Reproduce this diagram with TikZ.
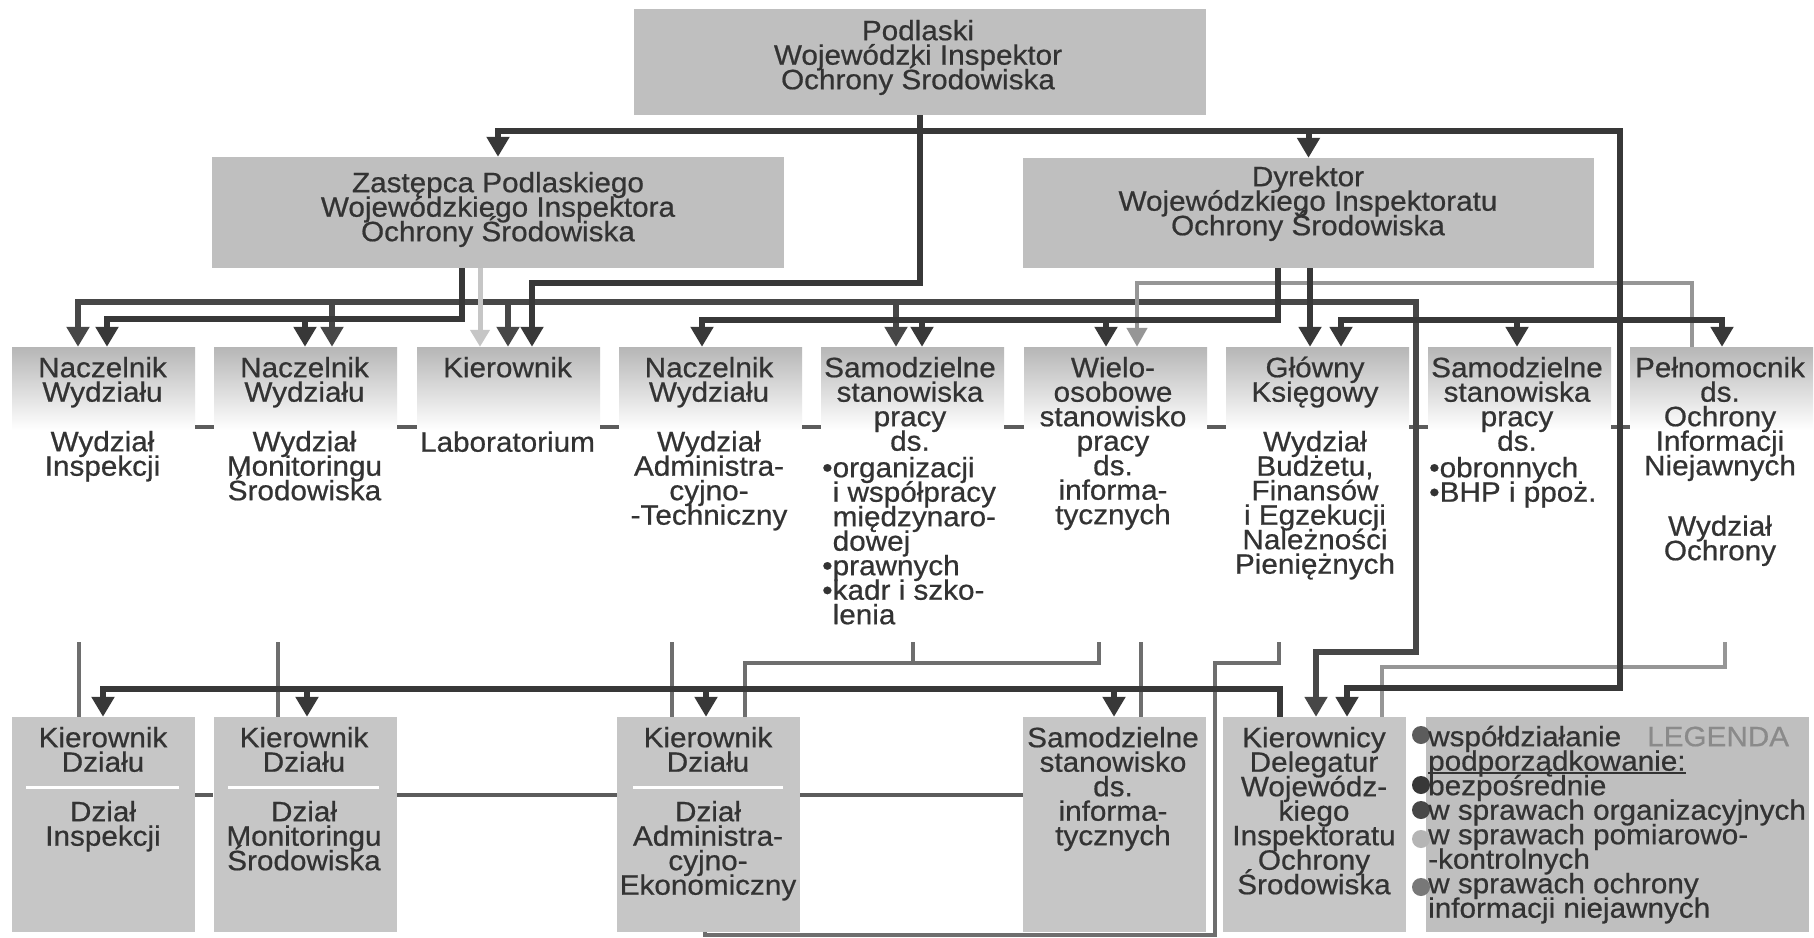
\documentclass[tikz,border=0pt]{standalone}
\usepackage{fontspec}
\setmainfont[FakeStretch=1.06,FakeBold=0.6]{Liberation Sans}
\usetikzlibrary{arrows.meta}
\definecolor{txtc}{HTML}{333333}
\definecolor{boxg}{HTML}{BFBFBF}
\definecolor{boxh}{HTML}{B6B6B6}
\definecolor{boxl}{HTML}{C6C6C6}
\definecolor{dirc}{HTML}{383838}
\definecolor{orgc}{HTML}{474747}
\definecolor{merc}{HTML}{6E6E6E}
\definecolor{wspc}{HTML}{5C5C5C}
\definecolor{ochc}{HTML}{969696}
\definecolor{pomc}{HTML}{C6C6C6}
\definecolor{legc}{HTML}{8A8A8A}
\newcommand\tfont{\fontsize{28}{24.5}\selectfont\lineskiplimit=-100pt\relax}
\newcommand\st{\rule{0pt}{21pt}}
\newcommand\bu{\makebox[10.5pt][l]{•}}
\newcommand\ind{\hspace*{10.5pt}}
\newcommand\ulx[1]{\setbox0\hbox{#1}\rlap{\rule[-3pt]{\wd0}{1.8pt}}\box0}
\begin{document}
\begin{tikzpicture}[x=1pt,y=-1pt,
  >={Triangle[length=20pt,width=22pt]},
  dir/.style={draw=dirc,line width=6pt},
  org/.style={draw=orgc,line width=5.5pt},
  mer/.style={draw=merc,line width=4.5pt},
  wsp/.style={draw=wspc,line width=4.5pt},
  och/.style={draw=ochc,line width=4.5pt},
  pom/.style={draw=pomc,line width=5pt},
  gbox/.style={fill=boxg,inner sep=0pt,draw=none},
  hbox/.style={top color=boxh,bottom color=white,draw=none,inner sep=0pt,minimum width=183pt,minimum height=83pt},
  lbox/.style={fill=boxl,draw=none,inner sep=0pt,minimum width=183pt,minimum height=215pt},
  tx/.style={text=txtc,font=\tfont,align=center,inner sep=0pt,anchor=north},
  txl/.style={tx,align=left,anchor=north west},
  dot/.style={circle,inner sep=0pt,minimum size=18pt}
]
\useasboundingbox (0,0) rectangle (1814,937);
\fill[white] (0,0) rectangle (1814,937);

% ---------- boxes
\node[gbox,minimum width=572pt,minimum height=106pt] (top) at (920,62) {};
\node[gbox,minimum width=572pt,minimum height=111pt] (zast) at (498,212.5) {};
\node[gbox,minimum width=571pt,minimum height=110pt] (dyr) at (1308.5,213) {};

\node[hbox] (r1) at (103.5,388.5) {};
\node[hbox] (r2) at (305.5,388.5) {};
\node[hbox] (r3) at (508.5,388.5) {};
\node[hbox] (r4) at (710.5,388.5) {};
\node[hbox] (r5) at (912.5,388.5) {};
\node[hbox] (r6) at (1115.5,388.5) {};
\node[hbox] (r7) at (1317.5,388.5) {};
\node[hbox] (r8) at (1519.5,388.5) {};
\node[hbox] (r9) at (1721.5,388.5) {};

\node[lbox] (d1) at (103.5,824.5) {};
\node[lbox] (d2) at (305,824.5) {};
\node[lbox] (d3) at (708.5,824.5) {};
\node[lbox] (d4) at (1114.5,824.5) {};
\node[lbox] (del) at (1314,824.5) {};
\node[lbox,fill=boxg,minimum width=383pt] (leg) at (1617.5,824.5) {};

% white dividers
\draw[white,line width=3pt] (26,787) -- (179,787);
\draw[white,line width=3pt] (228,787) -- (379,787);
\draw[white,line width=3pt] (633,787) -- (783,787);

% ---------- wspoldzialanie
\foreach \a/\b in {r1/r2,r2/r3,r3/r4,r4/r5,r5/r6,r6/r7,r7/r8,r8/r9}
  \draw[wsp] (\a.east |- 0,427) -- (\b.west |- 0,427);
\draw[wsp] (d1.east |- 0,795) -- (d2.west |- 0,795);
\draw[wsp] (d2.east |- 0,795) -- (d3.west |- 0,795);
\draw[wsp] (d3.east |- 0,795) -- (d4.west |- 0,795);

% ---------- organizational (Dyrektor)
\draw[org,->] (1278,302) -| (78,0 |- r1.north);
\draw[org,->] (332,302) -- (332,0 |- r2.north);
\draw[org,->] (508,302) -- (508,0 |- r3.north);
\draw[org,->] (896,302) -- (896,0 |- r5.north);
\draw[org,->] (1278,302) -| (1416,652) -| (1316,0 |- del.north);

% ---------- ochrona informacji niejawnych
\draw[och,-{Triangle[length=19pt,width=20pt]}] (1692,0 |- r9.north) |- (1137,283) -- (1137,0 |- r6.north);
\draw[och] (1725,642) |- (1382,667) -- (1382,0 |- del.north);

% ---------- pomiarowo-kontrolne
\draw[pom,-{Triangle[length=17pt,width=19pt]}] (480,0 |- zast.south) -- (480,0 |- r3.north);

% ---------- direct (top)
\draw[dir,->] (top.south) -- (920,131) -| (zast.north);
\draw[dir,->] (920,131) -| (dyr.north);
\draw[dir,->] (920,131) -| (1620,688) -| (1347,0 |- del.north);
\draw[dir,->] (1620,320) -| (1341,0 |- r7.north);
\draw[dir,->] (1620,320) -| (1722,0 |- r9.north);
\draw[dir,->] (1517,320) -- (1517,0 |- r8.north);
\draw[dir,->] (top.south) -- (920,283) -| (532,0 |- r3.north);

% direct (Zastepca)
\draw[dir,->] (462,0 |- zast.south) |- (107,319) -- (107,0 |- r1.north);
\draw[dir,->] (305,319) -- (305,0 |- r2.north);

% direct (Dyrektor)
\draw[dir,->] (1278,0 |- dyr.south) |- (702,320) -- (702,0 |- r4.north);
\draw[dir,->] (922,320) -- (922,0 |- r5.north);
\draw[dir,->] (1106,320) -- (1106,0 |- r6.north);
\draw[dir,->] (1310,0 |- dyr.south) -- (1310,0 |- r7.north);

% ---------- row 2 -> row 3
\draw[mer] (79,642) -- (79,0 |- d1.north);
\draw[mer] (278,642) -- (278,0 |- d2.north);
\draw[mer] (672,642) -- (672,0 |- d3.north);
\draw[mer] (913,642) -- (913,663);
\draw[mer] (1099,642) |- (745,663) -- (745,0 |- d3.north);
\draw[mer] (1141,642) -- (1141,0 |- d4.north);
\draw[mer] (1279,642) |- (1215,663) -- (1215,935) -| (705,0 |- d3.south);

% direct (Delegatury)
\draw[dir,->] (1280,0 |- del.north) |- (103,689) -- (103,0 |- d1.north);
\draw[dir,->] (307,689) -- (307,0 |- d2.north);
\draw[dir,->] (706,689) -- (706,0 |- d3.north);
\draw[dir,->] (1114,689) -- (1114,0 |- d4.north);

% ---------- texts
\node[tx] (ttop) at (918,19) {\st Podlaski\\Wojewódzki Inspektor\\Ochrony Środowiska};
\node[tx] (tzast) at (498,171) {\st Zastępca Podlaskiego\\Wojewódzkiego Inspektora\\Ochrony Środowiska};
\node[tx] (tdyr) at (1308,165) {\st Dyrektor\\Wojewódzkiego Inspektoratu\\Ochrony Środowiska};

\node[tx] (t1) at (102.5,356) {\st Naczelnik\\Wydziału\\[25pt]Wydział\\Inspekcji};
\node[tx] (t2) at (304.5,356) {\st Naczelnik\\Wydziału\\[25pt]Wydział\\Monitoringu\\Środowiska};
\node[tx] (t3) at (507.5,356) {\st Kierownik\\[50pt]Laboratorium};
\node[tx] (t4) at (709,356) {\st Naczelnik\\Wydziału\\[25pt]Wydział\\Administra-\\cyjno-\\-Techniczny};
\node[tx] (t5) at (910,356) {\st Samodzielne\\stanowiska\\pracy\\ds.};
\node[txl] (t5l) at (822,456) {\st\bu organizacji\\\ind i współpracy\\\ind międzynaro-\\\ind dowej\\\bu prawnych\\\bu kadr i szko-\\\ind lenia};
\node[tx] (t6) at (1113,356) {\st Wielo-\\osobowe\\stanowisko\\pracy\\ds.\\informa-\\tycznych};
\node[tx] (t7) at (1315,356) {\st Główny\\Księgowy\\[25pt]Wydział\\Budżetu,\\Finansów\\i Egzekucji\\Należności\\Pieniężnych};
\node[tx] (t8) at (1517,356) {\st Samodzielne\\stanowiska\\pracy\\ds.};
\node[txl] (t8l) at (1429,456) {\st\bu obronnych\\\bu BHP i ppoż.};
\node[tx] (t9) at (1720,356) {\st Pełnomocnik\\ds.\\Ochrony\\Informacji\\Niejawnych\\[36pt]Wydział\\Ochrony};

\node[tx] (k1) at (103,726) {\st Kierownik\\Działu\\[25pt]Dział\\Inspekcji};
\node[tx] (k2) at (304,726) {\st Kierownik\\Działu\\[25pt]Dział\\Monitoringu\\Środowiska};
\node[tx] (k3) at (708,726) {\st Kierownik\\Działu\\[25pt]Dział\\Administra-\\cyjno-\\Ekonomiczny};
\node[tx] (k4) at (1113,726) {\st Samodzielne\\stanowisko\\ds.\\informa-\\tycznych};
\node[tx] (k5) at (1314,726) {\st Kierownicy\\Delegatur\\Wojewódz-\\kiego\\Inspektoratu\\Ochrony\\Środowiska};

% ---------- legend
\node[dot,fill=wspc] (l1) at (1421,735) {};
\node[dot,fill=dirc] (l2) at (1421,785) {};
\node[dot,fill=orgc] (l3) at (1421,810) {};
\node[dot,fill=ochc!70!white] (l4) at (1421,839) {};
\node[dot,fill=ochc!80!black] (l5) at (1421,887) {};
\node[txl] (lt) at (1428,725) {\st współdziałanie\\\ulx{podporządkowanie:}\\bezpośrednie\\w sprawach organizacyjnych\\w sprawach pomiarowo-\\-kontrolnych\\w sprawach ochrony\\informacji niejawnych};
\node[txl,text=legc] (lg) at (1647,725) {\st LEGENDA};
\end{tikzpicture}
\end{document}
